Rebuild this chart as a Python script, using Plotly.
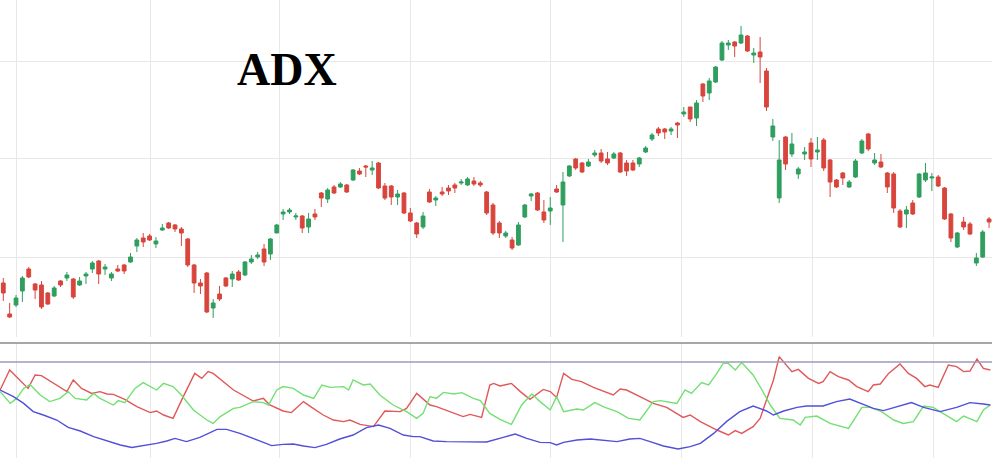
import plotly.graph_objects as go

# ---------------- price candles (index = trading day) ----------------
open_ = [178,147,156,170,192,177,176,168,165,180,
         183,182,176,185,192,200,192,183,192,196,
         199,215,223,225,217,231,238,236,232,222,
         196,178,188,153,167,183,182,189,186,199,
         204,212,207,228,247,249,244,245,234,247,
         268,262,274,274,276,281,290,295,291,298,
         275,275,264,268,248,238,234,269,261,269,
         273,276,278,276,280,278,269,256,238,225,
         221,216,244,265,268,249,250,272,256,285,
         302,298,295,306,308,302,303,308,298,298,
         297,309,322,332,332,330,338,347,354,343,
         377,368,379,401,416,419,418,425,406,409,
         390,324,263,324,307,287,307,318,309,321,
         301,281,288,274,284,308,327,298,299,288,
         287,250,247,258,264,281,283,284,273,247,
         214,239,237,198,204,242]
high = [183,158,166,185,194,178,180,169,175,181,
        189,183,184,189,200,201,197,189,196,197,
        208,223,228,227,224,237,239,237,234,223,
        197,182,189,162,175,184,190,191,200,206,
        209,217,223,237,252,253,248,246,248,252,
        269,273,276,279,277,292,293,296,300,299,
        278,276,271,269,253,239,249,272,265,274,
        276,278,282,284,284,280,270,258,240,230,
        224,239,257,268,269,261,264,276,289,296,
        303,299,302,311,312,309,309,309,301,301,
        304,315,328,334,333,334,339,354,354,361,
        378,383,395,420,421,420,435,426,413,424,
        393,342,321,325,328,294,314,323,324,323,
        302,282,289,281,302,322,328,308,307,289,
        289,252,255,261,288,298,288,286,274,248,
        229,244,239,208,231,244]
low = [160,143,154,159,183,162,152,156,164,174,
       180,162,175,177,188,177,186,180,189,187,
       198,209,214,220,213,230,232,229,215,194,
       168,167,148,143,160,174,174,180,185,197,
       202,195,201,228,241,247,241,228,228,241,
       254,258,267,273,268,280,286,284,286,272,
       261,256,256,247,239,223,232,258,255,265,
       266,268,276,275,275,274,246,226,223,223,
       211,215,243,260,250,238,236,268,219,284,
       291,288,294,304,298,296,302,288,285,290,
       294,308,320,325,322,326,323,344,339,335,
       359,361,378,400,411,404,417,409,398,378,
       350,320,258,291,304,282,301,294,301,290,
       264,273,276,273,283,307,310,296,293,268,
       248,233,233,246,263,279,270,274,241,219,
       213,231,226,195,203,233]
close = [168,144,163,183,184,171,154,157,173,176,
         186,164,180,187,198,187,194,187,190,190,
         204,221,219,221,220,233,233,232,228,196,
         178,175,149,158,162,175,187,181,199,202,
         206,199,222,236,249,251,245,233,242,244,
         263,271,268,277,269,291,287,294,293,273,
         263,264,267,248,240,227,245,259,263,267,
         270,273,279,282,277,276,248,228,228,228,
         213,236,256,267,251,241,253,269,279,295,
         293,289,299,308,300,298,307,289,290,291,
         303,313,326,328,329,332,336,349,342,358,
         365,380,394,418,418,415,426,410,408,404,
         354,335,301,297,317,292,309,302,311,293,
         279,274,283,279,300,320,312,301,294,274,
         253,234,251,247,287,288,284,275,242,223,
         228,234,227,203,229,239]
days = list(range(len(close)))

# ---------------- ADX indicator (+DI red, -DI green, ADX blue) ----------------
plus_di_x = [-0.5,1.0,3.9,5.0,6.0,8.4,10.0,11.0,12.3,13.9,15.2,16.3,17.3,19.1,21.0,23.1,24.1,25.2,26.7,28.3,
             30.1,31.2,32.2,33.0,36.2,39.3,40.9,41.9,44.0,45.3,47.2,48.5,50.3,51.9,53.5,54.5,56.1,58.2,60.0,62.4,
             63.4,65.0,67.1,68.1,70.2,72.3,73.4,75.2,76.5,77.1,78.1,79.9,81.3,82.8,84.9,86.0,87.0,88.1,89.4,90.9,
             92.8,94.4,95.9,97.0,98.0,100.1,102.2,104.3,106.9,108.0,109.6,112.2,114.0,115.1,116.1,117.9,119.0,120.0,121.1,122.0,
             124.0,125.0,126.6,128.2,128.9,130.0,131.3,132.9,134.2,136.0,136.8,137.9,139.2,141.0,142.3,143.6,144.9,145.7,147.0,148.6,
             149.9,151.0,152.0,153.1,154.1,155.2]
plus_di = [37.5,47.5,38.3,45,44.7,40,36.7,42.5,38.3,35.8,36.7,35.5,35.3,32.8,29.2,26.2,27,25,23.3,34.2,
           45.8,43.3,46.7,45.8,37.5,32,33.3,30,27,26.2,31.7,28.8,25,22.5,21.7,22.5,20.3,19.2,27,26.7,
           28.3,35.8,30,29.2,26.7,24.2,25.3,23.8,40,40.8,39.5,40.8,36.7,32.8,37.8,36.7,33.8,45.8,42.8,41.7,
           38.8,37,35,38,37.5,34.2,30.8,28.8,23.8,25,21.7,17.5,15,17.2,15.8,19.2,23.3,32.5,42.5,54.2,
           46.7,47.8,43.3,40.8,41.7,46.7,44.2,42.5,39.2,36.7,40,40.5,45.8,50.5,45.8,43.3,39.2,40,38.8,50,
           49.2,46.7,47,53,48.3,47.5]
minus_di_x = [-0.5,1.1,2.1,3.2,4.2,5.8,7.3,8.9,10.2,11.3,13.1,14.2,15.2,17.3,18.1,19.1,20.7,22.0,24.1,25.2,
              26.7,28.0,29.9,32.0,33.0,34.1,36.2,37.2,39.3,40.9,41.7,43.0,44.0,45.6,47.2,48.8,50.1,51.4,53.5,54.3,
              55.0,56.6,57.7,59.2,61.3,63.4,65.0,66.0,67.1,68.1,69.2,70.8,72.1,73.9,75.0,76.5,78.1,79.9,81.5,83.1,
              84.4,86.0,87.0,88.1,90.2,91.2,93.0,94.6,96.5,98.3,100.1,102.2,103.3,105.9,107.2,108.2,109.8,110.9,112.2,113.2,
              114.0,115.1,116.1,117.9,119.3,120.6,122.1,124.2,125.3,126.1,127.9,130.0,132.9,135.0,136.3,138.1,140.0,141.5,143.1,144.7,
              146.2,147.8,149.9,151.0,153.1,154.1,155.2]
minus_di = [36.7,30.8,33.3,38.3,40.3,35,31.7,33.3,36.7,33.3,32.5,35.8,33.3,30,32.2,31.2,38.3,41.2,37.5,40.8,
            39.2,35,27.5,22.5,20.8,24.2,28.3,28.8,31.7,31.2,30,37.5,39.2,38.3,35,33.3,40,38.8,39.2,37.5,
            42.5,40,40.5,35,30,26.7,23.3,25.8,34.2,33.3,36.3,35.5,36.2,33.3,32.2,25.8,22.8,20.3,30,35.5,
            31.7,27.5,34.2,26.7,28,27.5,31.2,28.8,26.7,23.3,22.5,31.7,32.2,30.8,37.5,35.8,41.2,40,45.8,50.8,
            50.8,47.5,51.2,45,37.5,30,23.3,22.5,20,23.8,24.5,20.8,18.3,28.8,28.8,26.7,22.5,20.8,21.7,29.5,
            28.8,25.8,21.7,24.5,21.7,27.5,30]
adx_x = [-0.5,1.6,3.2,4.7,6.3,8.4,10.2,12.1,14.2,16.3,18.4,20.2,22.0,24.1,25.7,27.0,28.8,30.9,33.6,35.1,
         37.2,39.8,42.2,44.0,45.6,47.2,49.0,50.8,52.9,55.0,57.1,59.0,60.8,62.9,64.5,65.5,67.6,69.7,72.3,73.9,
         76.0,78.6,80.5,82.3,84.4,86.0,87.0,88.1,90.2,92.3,94.4,96.5,98.5,100.1,101.7,103.8,106.1,108.0,109.6,111.7,
         113.7,115.8,117.9,119.0,120.0,121.1,122.7,124.8,126.3,128.9,131.0,133.1,135.0,136.8,138.4,140.5,142.8,144.7,147.3,149.9,
         152.0,154.1,155.2]
adx = [37.5,34.2,30.8,26.7,25,22.5,18.8,17,14.2,12,10,8.8,9.7,10.8,12,13.3,11.7,13.8,17.8,17.8,
       15.8,12.5,9.7,10.3,10.5,9.5,8.7,10.3,13,15,18.7,20,18.3,15,14.2,14.2,12,11.7,11.7,11.7,
       11.5,13.8,15.5,13.3,11.3,11.2,10,11.3,12.5,13,12.5,11.7,13,13.3,11.7,9.5,8,9.2,10.8,15.8,
       21.7,26.7,29.5,28.3,27,25,27,28.8,29.5,29.5,31.7,33,30.5,28.3,27.2,29.2,31.2,28.8,26.7,28.8,
       31.2,30.5,30]

# grid positions (month boundaries, in trading-day index) and price grid levels
month_grid = [2.0, 23.1, 43.5, 64.1, 86.1, 106.7, 127.2, 146.2]
price_grid = [400, 302, 203]
title_text = "ADX"

GREEN = "#2f9e5e"
RED = "#d8453c"
GRID = "#e8e8e8"

fig = go.Figure()
fig.add_trace(go.Candlestick(
    x=days, open=open_, high=high, low=low, close=close,
    increasing=dict(line=dict(color=GREEN, width=1), fillcolor=GREEN),
    decreasing=dict(line=dict(color=RED, width=1), fillcolor=RED),
    whiskerwidth=0, showlegend=False, hoverinfo="skip",
    xaxis="x", yaxis="y"))

fig.add_trace(go.Scatter(x=plus_di_x, y=plus_di, mode="lines",
                         line=dict(color="#e0585a", width=1.4), xaxis="x2", yaxis="y2", showlegend=False))
fig.add_trace(go.Scatter(x=minus_di_x, y=minus_di, mode="lines",
                         line=dict(color="#72e072", width=1.4), xaxis="x2", yaxis="y2", showlegend=False))
fig.add_trace(go.Scatter(x=adx_x, y=adx, mode="lines",
                         line=dict(color="#5050d8", width=1.4), xaxis="x2", yaxis="y2", showlegend=False))

xr = [-0.52, 155.46]
common_x = dict(range=xr, tickvals=month_grid, showticklabels=False, showgrid=True,
                gridcolor=GRID, gridwidth=1, zeroline=False, showline=False, ticks="")
fig.update_layout(
    width=992, height=465,
    margin=dict(l=0, r=0, t=0, b=0),
    paper_bgcolor="white", plot_bgcolor="white",
    boxgap=0.15,
    hovermode=False,
    xaxis=dict(**common_x, domain=[0, 1], anchor="y", rangeslider=dict(visible=False)),
    yaxis=dict(domain=[0.2753, 1], range=[124, 461], tickvals=price_grid, showticklabels=False,
               showgrid=True, gridcolor=GRID, gridwidth=1, zeroline=False, showline=False, ticks=""),
    xaxis2=dict(**common_x, domain=[0, 1], anchor="y2"),
    yaxis2=dict(domain=[0.015, 0.2624], range=[3.5, 61], showticklabels=False, showgrid=False,
                zeroline=False, showline=False, ticks=""),
    shapes=[
        dict(type="line", xref="paper", yref="paper", x0=0, x1=1, y0=0.2624, y1=0.2624,
             line=dict(color="#8a8a8a", width=1.5)),
        dict(type="line", xref="paper", yref="paper", x0=0, x1=1, y0=0.2215, y1=0.2215,
             line=dict(color="#9c9cb8", width=1.5)),
    ],
    annotations=[dict(text="<b>%s</b>" % title_text, x=286.7 / 992, y=1 - 70 / 465,
                      xref="paper", yref="paper", xanchor="center", yanchor="middle",
                      showarrow=False, font=dict(family="Liberation Serif", size=46, color="black"))],
)

fig.write_html("out.html", config={"displayModeBar": False},
               post_script="document.body.style.margin='0';document.body.style.overflow='hidden';")
